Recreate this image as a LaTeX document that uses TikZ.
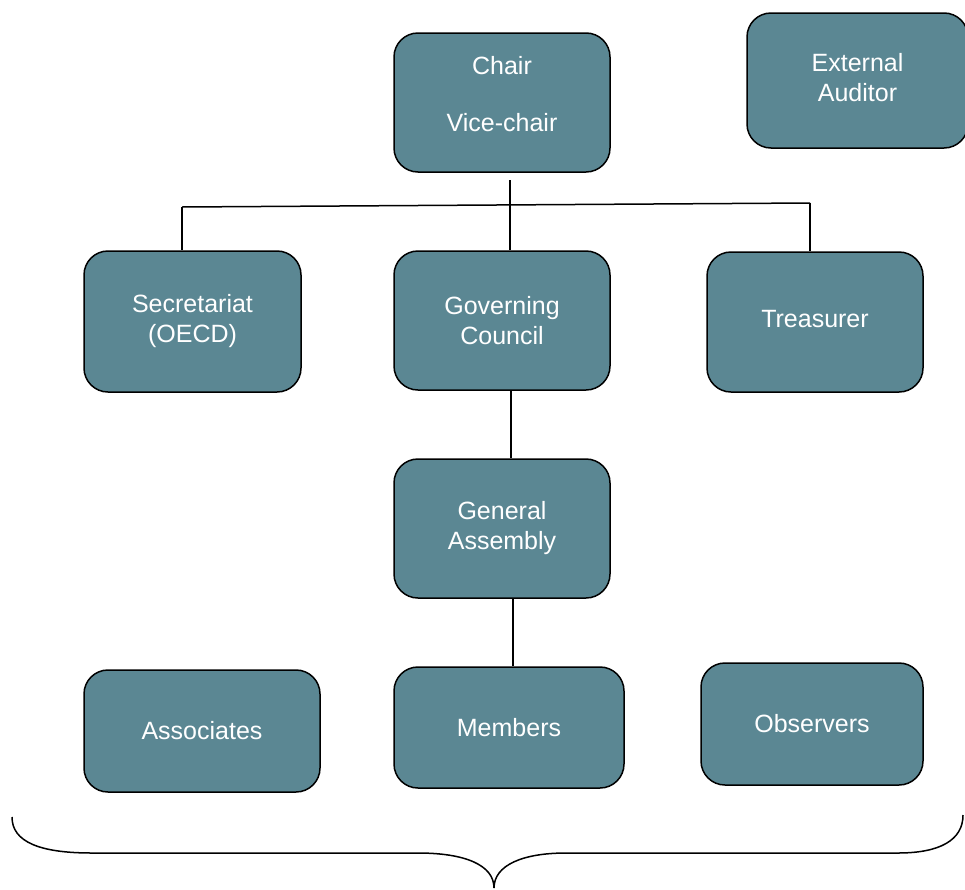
\documentclass[tikz,border=0pt]{standalone}
\usepackage{fontspec}
\setmainfont{Liberation Sans}
\definecolor{boxfill}{RGB}{91,135,147}
\begin{document}
\begin{tikzpicture}[x=1pt,y=-1pt,
  box/.style={draw=black, line width=1.5pt, fill=boxfill, rounded corners=24pt,
    text=white, align=center, font=\fontsize{25}{30}\selectfont, inner sep=0pt},
  conn/.style={draw=black, line width=1.5pt}]
\useasboundingbox (0,0) rectangle (965,889);
% boxes
\node[box, minimum width=216pt, minimum height=139pt, text depth=17pt] (chair) at (502,102.5) {Chair\\[27pt]Vice-chair};
\node[box, minimum width=221pt, minimum height=135pt, text depth=7pt] (audit) at (857.5,80.5) {External\\Auditor};
\node[box, minimum width=217pt, minimum height=141pt] (secr) at (192.5,321.5) {Secretariat\\(OECD)};
\node[box, minimum width=216pt, minimum height=139pt] (gov) at (502,320.5) {Governing\\Council};
\node[box, minimum width=216pt, minimum height=140pt, text depth=6pt] (treas) at (815,322) {Treasurer};
\node[box, minimum width=216pt, minimum height=139pt] (gen) at (502,528.5) {General\\Assembly};
\node[box, minimum width=236pt, minimum height=122pt] (assoc) at (202,731) {Associates};
\node[box, minimum width=230pt, minimum height=121pt] (memb) at (509,727.5) {Members};
\node[box, minimum width=222pt, minimum height=122pt] (obs) at (812,724) {Observers};
% connectors
\coordinate (hl) at (182,207);
\coordinate (hr) at (810,203);
\coordinate (ctop) at (510,180);
\draw[conn] (hl) -- (hr);
\draw[conn] (ctop) -- (gov.north -| ctop);
\draw[conn] (hl) -- (secr.north -| hl);
\draw[conn] (hr) -- (treas.north -| hr);
\draw[conn] (gov.south -| 511,0) -- (gen.north -| 511,0);
\draw[conn] (gen.south -| 513,0) -- (memb.north -| 513,0);
% brace
\coordinate (bl) at (12,817);
\coordinate (btip) at (494,888);
\coordinate (br) at (963,815);
\draw[line width=1.5pt] (bl) .. controls (12,842) and (40,853) .. (92,853)
  -- (418,853) .. controls (465,853) and (494,865) .. (btip)
  .. controls (494,865) and (523,853) .. (566,853)
  -- (898,853) .. controls (940,853) and (963,840) .. (br);
\end{tikzpicture}
\end{document}
